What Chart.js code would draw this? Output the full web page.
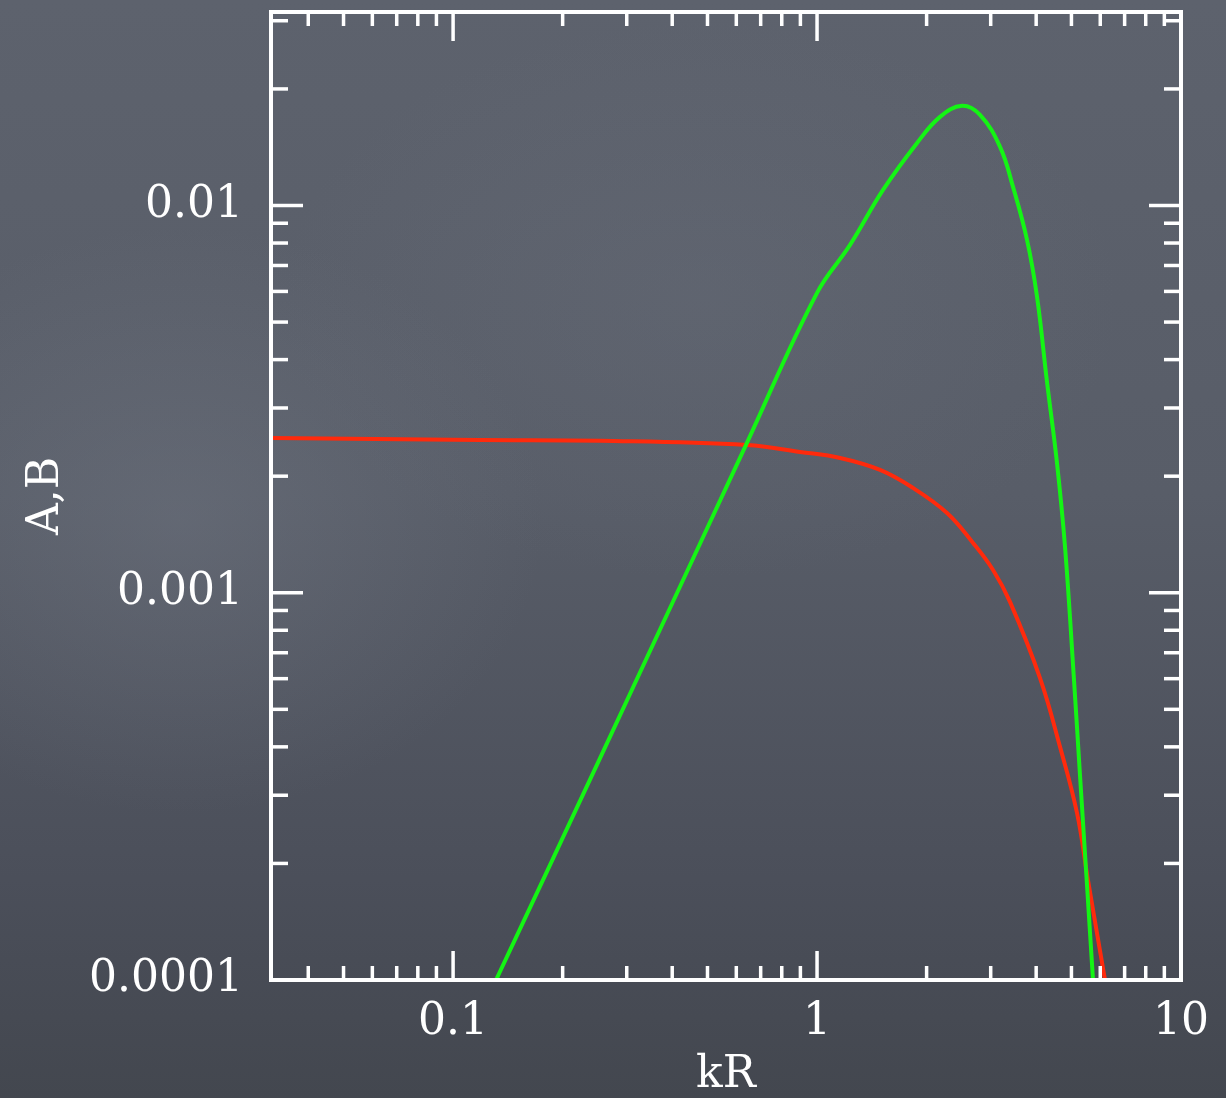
<!DOCTYPE html>
<html>
<head>
<meta charset="utf-8">
<title>A,B vs kR</title>
<script src="https://cdn.jsdelivr.net/npm/chart.js@4.4.1/dist/chart.umd.min.js"></script>
<style>
  html, body { margin: 0; padding: 0; }
  body {
    width: 1226px; height: 1098px; overflow: hidden;
    background:
      radial-gradient(ellipse 520px 420px at 180px 520px, rgba(120,126,138,0.35), rgba(120,126,138,0) 70%),
      radial-gradient(ellipse 600px 400px at 700px 300px, rgba(110,116,128,0.25), rgba(110,116,128,0) 70%),
      linear-gradient(180deg, #5d626d 0%, #585d68 45%, #4b4f5a 80%, #43474f 100%);
  }
  canvas { display: block; }
</style>
</head>
<body>
<canvas id="grafico" width="1226" height="1098"></canvas>
<script>
// curva verde (A)
const kVerde = [0.1312, 0.2534, 0.638, 1.0, 1.232, 1.518, 1.883, 2.177, 2.502, 2.804, 3.183, 3.455, 3.775, 4.022, 4.284, 4.564, 4.801, 5.082, 5.278, 5.517, 5.731]
const valoresVerde = [1.0e-4, 3.74e-4, 2.41e-3, 5.95e-3, 7.91e-3, 1.097e-2, 1.451e-2, 1.694e-2, 1.809e-2, 1.714e-2, 1.417e-2, 1.117e-2, 8.15e-3, 5.81e-3, 3.50e-3, 2.16e-3, 1.313e-3, 5.95e-4, 3.38e-4, 1.76e-4, 1.0e-4]

// curva roja (B)
const kRoja = [0.0316, 0.1187, 0.2534, 0.642, 0.898, 1.157, 1.490, 1.835, 2.276, 2.683, 3.045, 3.390, 4.099, 4.652, 5.179, 5.553, 6.183]
const valoresRoja = [2.51e-3, 2.48e-3, 2.47e-3, 2.408e-3, 2.31e-3, 2.229e-3, 2.076e-3, 1.865e-3, 1.607e-3, 1.345e-3, 1.145e-3, 9.47e-4, 6.02e-4, 4.0e-4, 2.70e-4, 1.81e-4, 1.0e-4]

// marcas de los ejes
const xMayores = [0.1, 1, 10]
const xEtiquetas = ['0.1', '1', '10']
const xMenores = [0.04, 0.05, 0.06, 0.07, 0.08, 0.09, 0.2, 0.3, 0.4, 0.5, 0.6, 0.7, 0.8, 0.9, 2, 3, 4, 5, 6, 7, 8, 9]
const yMayores = [0.0001, 0.001, 0.01]
const yEtiquetas = ['0.0001', '0.001', '0.01']
const yMenores = [0.0002, 0.0003, 0.0004, 0.0005, 0.0006, 0.0007, 0.0008, 0.0009,
  0.002, 0.003, 0.004, 0.005, 0.006, 0.007, 0.008, 0.009, 0.02, 0.03]

const fuente = { family: '"DejaVu Serif", "Liberation Serif", serif', size: 44 }

const aPuntos = (ks, vals) => ks.map((k, i) => ({ x: k, y: vals[i] }))

// sin el relleno extra que chart.js deja para las etiquetas de los extremos
const sinRelleno = (scale) => {
  scale.paddingTop = 0
  scale.paddingBottom = 0
  scale.paddingLeft = 0
  scale.paddingRight = 0
}

// marco blanco con marcas hacia adentro en los cuatro lados
const marcasInternas = {
  id: 'marcasInternas',
  afterDatasetsDraw(chart) {
    const { ctx, chartArea: { left, right, top, bottom }, scales: { x, y } } = chart
    const linea = (x1, y1, x2, y2) => {
      ctx.beginPath()
      ctx.moveTo(x1, y1)
      ctx.lineTo(x2, y2)
      ctx.stroke()
    }
    ctx.save()
    ctx.strokeStyle = '#ffffff'
    ctx.lineWidth = 3.5
    const marcaX = (v, largo) => {
      const px = x.getPixelForValue(v)
      linea(px, bottom, px, bottom - largo)
      linea(px, top, px, top + largo)
    }
    const marcaY = (v, largo) => {
      const py = y.getPixelForValue(v)
      linea(left, py, left + largo, py)
      linea(right, py, right - largo, py)
    }
    xMayores.forEach(v => marcaX(v, 29))
    xMenores.forEach(v => marcaX(v, 14))
    yMayores.forEach(v => marcaY(v, 32))
    yMenores.forEach(v => marcaY(v, 17))
    ctx.lineWidth = 4
    ctx.strokeRect(left, top, right - left, bottom - top)
    ctx.restore()
  }
}

new Chart(document.getElementById('grafico'), {
  type: 'line',
  data: {
    datasets: [
      {
        label: 'A',
        data: aPuntos(kVerde, valoresVerde),
        borderColor: '#14f514',
        borderWidth: 4,
        pointRadius: 0,
        tension: 0.4,
        fill: false
      },
      {
        label: 'B',
        data: aPuntos(kRoja, valoresRoja),
        borderColor: '#ff2a0c',
        borderWidth: 4,
        pointRadius: 0,
        tension: 0.4,
        fill: false
      }
    ]
  },
  options: {
    responsive: false,
    animation: false,
    layout: { padding: { top: 12, right: 45, left: 0, bottom: 0 } },
    plugins: {
      legend: { display: false },
      tooltip: { enabled: false }
    },
    scales: {
      x: {
        type: 'logarithmic',
        position: 'bottom',
        min: 0.0316,
        max: 10,
        afterBuildTicks: (scale) => { scale.ticks = xMayores.map(v => ({ value: v })) },
        afterFit: (scale) => {
          scale.height = 118
          sinRelleno(scale)
        },
        grid: { display: false, drawTicks: false },
        border: { display: false },
        ticks: {
          color: '#ffffff',
          font: fuente,
          padding: 16,
          maxRotation: 0,
          autoSkip: false,
          callback: (v, i) => xEtiquetas[i]
        },
        title: {
          display: true,
          text: 'kR',
          color: '#ffffff',
          font: { ...fuente, lineHeight: 1 },
          padding: { top: 0, bottom: 0 }
        }
      },
      y: {
        type: 'logarithmic',
        min: 0.0001,
        max: 0.0316,
        afterBuildTicks: (scale) => { scale.ticks = yMayores.map(v => ({ value: v })) },
        afterFit: (scale) => {
          scale.width = 271
          sinRelleno(scale)
        },
        grid: { display: false, drawTicks: false },
        border: { display: false },
        ticks: {
          color: '#ffffff',
          font: fuente,
          padding: 28,
          autoSkip: false,
          callback: (v, i) => yEtiquetas[i]
        },
        title: {
          display: true,
          text: 'A,B',
          color: '#ffffff',
          font: { ...fuente, lineHeight: 1 },
          padding: { top: 25, bottom: 0 }
        }
      }
    }
  },
  plugins: [marcasInternas]
})
</script>
</body>
</html>
